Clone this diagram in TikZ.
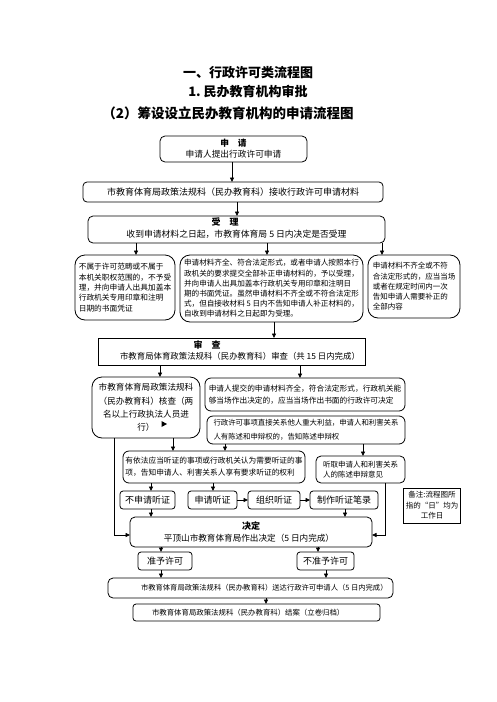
\documentclass[tikz,border=0pt]{standalone}
\usepackage{fontspec}
\setmainfont{Noto Sans CJK SC}
\usetikzlibrary{arrows.meta}
\newcommand{\fsz}[2]{\fontsize{#1}{#2}\selectfont}
\begin{document}
\begin{tikzpicture}[x=1pt,y=-1pt,
  every node/.style={inner sep=0pt, outer sep=0pt},
  box/.style={draw, line width=0.8pt, align=center},
  sbox/.style={box, rounded corners=3pt, minimum height=18pt, font=\fsz{9}{9}},
  arr/.style={line width=0.8pt, -{Triangle[length=4.5pt,width=4pt]}},
  ttl/.style={font=\bfseries\fsz{13}{13}},
  hd/.style={font=\bfseries\fsz{9}{9}}]
\fill[white] (0,0) rectangle (496,702);
\useasboundingbox (0,0) rectangle (496,702);

% titles
\node[ttl] (t1) at (248,73) {一、行政许可类流程图};
\node[ttl] (t2) at (248,92) {1.\ 民办教育机构审批};
\node[ttl, font=\bfseries\fsz{13.5}{13.5}] (t3) at (228,113) {（2）筹设设立民办教育机构的申请流程图};

% apply
\node[box, rounded corners=5pt, minimum width=147pt, minimum height=26pt, font=\fsz{8.7}{11}] (apply) at (233.5,149) {{\bfseries 申\quad 请}\\申请人提出行政许可申请};

% receive
\node[box, rounded corners=4pt, minimum width=300pt, minimum height=20pt, font=\fsz{9}{11}] (recv) at (233,192) {市教育体育局政策法规科（民办教育科）接收行政许可申请材料};
\draw[arr] (232,0 |- apply.south) -- (232,0 |- recv.north);

% accept
\node[box, rounded corners=5pt, minimum width=297pt, minimum height=27pt] (accept) at (236.5,229.5) {};
\node[hd] (acch) at (225,222) {受\quad 理};
\node[font=\fsz{8.8}{9}] (accb) at (236.5,234) {收到申请材料之日起，市教育体育局 5 日内决定是否受理};
\draw[arr] (237,0 |- recv.south) -- (237,0 |- accept.north);

% three boxes
\node[box, rounded corners=10pt, minimum width=100pt, minimum height=65pt, align=left, font=\fsz{7.7}{10.3}] (L) at (125,287.5) {不属于许可范畴或不属于\\本机关职权范围的，不予受\\理，并向申请人出具加盖本\\行政机关专用印章和注明\\日期的书面凭证};
\node[box, rounded corners=10pt, minimum width=183pt, minimum height=67pt, align=left, font=\fsz{7.6}{10.2}] (M) at (271.5,288.5) {申请材料齐全、符合法定形式，或者申请人按照本行\\政机关的要求提交全部补正申请材料的，予以受理，\\并向申请人出具加盖本行政机关专用印章和注明日\\期的书面凭证。虽然申请材料不齐全或不符合法定形\\式，但自接收材料 5 日内不告知申请人补正材料的，\\自收到申请材料之日起即为受理。};
\node[box, rounded corners=10pt, minimum width=92pt, minimum height=63pt, align=left, font=\fsz{7.5}{10.3}] (R) at (414,286.5) {申请材料不齐全或不符\\合法定形式的，应当当场\\或者在规定时间内一次\\告知申请人需要补正的\\全部内容};
\draw[arr] (136,0 |- accept.south) -- (136,0 |- L.north);
\draw[arr] (267,0 |- accept.south) -- (267,0 |- M.north);
\draw[arr] (382,0 |- accept.south) -- (382,0 |- R.north);

% review
\node[box, minimum width=267pt, minimum height=27pt] (S) at (231.5,351.5) {};
\node[hd] (sh) at (207,345) {审\quad 查};
\node[font=\fsz{8.4}{9}] (sb) at (240,356) {市教育局体育政策法规科（民办教育科）审查（共 15 日内完成）};
\draw[arr] (274,0 |- M.south) -- (274,0 |- S.north);

% check box
\node[box, rounded corners=10pt, minimum width=108pt, minimum height=61pt, font=\fsz{8.6}{13.3}] (K) at (146,407.5) {市教育体育局政策法规科\\（民办教育科）核查（两\\名以上行政执法人员进\\行）};
\fill (161.5,421) -- (167,424) -- (161.5,427) -- cycle;

\node[box, rounded corners=6pt, minimum width=200pt, minimum height=33pt, align=left, font=\fsz{7.7}{12}] (A) at (305,394.5) {申请人提交的申请材料齐全，符合法定形式，行政机关能\\够当场作出决定的，应当当场作出书面的行政许可决定};
\node[box, rounded corners=6pt, minimum width=198pt, minimum height=28pt, align=left, font=\fsz{7.4}{13.5}] (B) at (306,430) {行政许可事项直接关系他人重大利益，申请人和利害关系\\人有陈述和申辩权的，告知陈述申辩权};
\draw[arr] (160,0 |- S.south) -- (160,0 |- K.north);
\draw[arr] (300,0 |- S.south) -- (300,0 |- A.north);

\node[box, rounded corners=6pt, minimum width=182pt, minimum height=32pt, align=left, font=\fsz{7.7}{12}] (C) at (214,467) {有依法应当听证的事项或行政机关认为需要听证的事\\项，告知申请人、利害关系人享有要求听证的权利};
\node[box, rounded corners=5pt, minimum width=89pt, minimum height=27pt, align=left, font=\fsz{7.5}{10.5}] (D) at (360.5,469.5) {听取申请人和利害关系\\人的陈述申辩意见};
\draw[arr] (225,0 |- B.south) -- (225,0 |- C.north);
\draw[arr] (363,0 |- B.south) -- (363,0 |- D.north);
\draw[arr] (173,0 |- K.south) -- (173,0 |- C.north);

% hearing row
\node[sbox, minimum width=55pt] (ns) at (147.5,500) {不申请听证};
\node[sbox, minimum width=49pt] (ap) at (212.5,500) {申请听证};
\node[sbox, minimum width=52pt] (og) at (274,500) {组织听证};
\node[sbox, minimum width=68pt] (rc) at (344,500) {制作听证笔录};
\draw[arr] (151,0 |- C.south) -- (151,0 |- ns.north);
\draw[arr] (213,0 |- C.south) -- (213,0 |- ap.north);
\draw[arr] (ap.east) -- (og.west);
\draw[arr] (og.east) -- (rc.west);

% decision
\node[box, rounded corners=5pt, minimum width=242pt, minimum height=30pt] (J) at (251,532) {};
\node[hd] (jh) at (251,526) {决定};
\node[font=\fsz{8.6}{9}] (jb) at (249,538.5) {平顶山市教育体育局作出决定（5 日内完成）};
\draw[arr] (151,0 |- ns.south) -- (151,0 |- J.north);
\draw[arr] (345,0 |- rc.south) -- (345,0 |- J.north);
\draw[arr] (114,0 |- K.south) |- ([yshift=-3pt]J.west);
\draw[arr] (385,0 |- D.south) |- ([yshift=-3pt]J.east);

% note
\node[box, minimum width=57pt, minimum height=35pt, font=\fsz{7.5}{10.5}] (Z) at (432,505.5) {备注:流程图所\\指的“日”均为\\工作日};

% grant / deny
\node[sbox, minimum width=54pt] (Y) at (165,561) {准予许可};
\node[sbox, minimum width=57pt] (N) at (325.5,561) {不准予许可};
\draw[arr] (161,0 |- J.south) -- (161,0 |- Y.north);
\draw[arr] (318,0 |- J.south) -- (318,0 |- N.north);

% deliver
\node[box, rounded corners=5pt, minimum width=285pt, minimum height=20pt] (T) at (250.5,588) {};
\node[font=\fsz{7.3}{9}, anchor=west] (tb) at (141,588) {市教育体育局政策法规科（民办教育科）送达行政许可申请人（5 日内完成）};
\draw[arr] (161,0 |- Y.south) -- (161,0 |- T.north);
\draw[arr] (326,0 |- N.south) -- (326,0 |- T.north);

% close
\node[box, rounded corners=3pt, minimum width=247pt, minimum height=17pt] (E) at (256.5,612.5) {};
\node[font=\fsz{7.4}{9}, anchor=west] (eb) at (152,612.5) {市教育体育局政策法规科（民办教育科）结案（立卷归档）};
\draw[arr] (266,0 |- T.south) -- (266,0 |- E.north);
\end{tikzpicture}
\end{document}
